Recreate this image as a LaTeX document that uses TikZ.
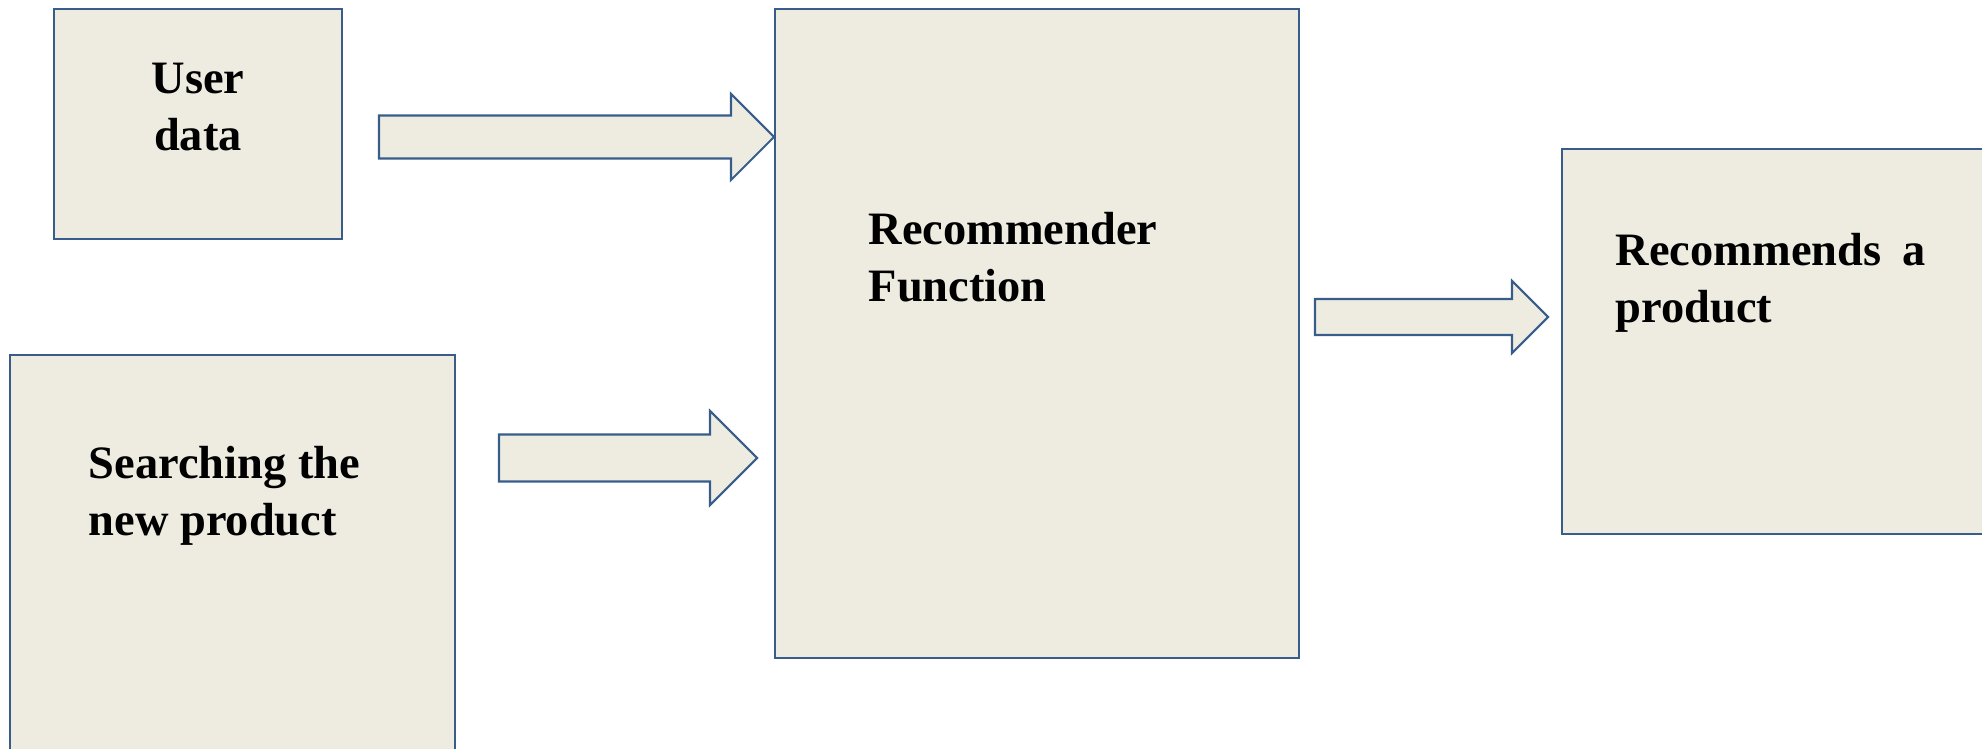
\documentclass[tikz,border=0pt]{standalone}
\usepackage{fontspec}
\setmainfont{Liberation Serif}
\usepackage{xcolor}
\usetikzlibrary{calc,positioning}
\definecolor{boxbeige}{HTML}{EEECE1}
\definecolor{boxblue}{HTML}{385D8A}
\tikzset{
  block/.style={draw=boxblue,fill=boxbeige,line width=0.6pt,inner sep=0pt,anchor=north west},
  blocktext/.style={font=\fontsize{13.2}{16.2}\selectfont\bfseries,inner sep=0pt},
  fatarrow/.style={draw=boxblue,fill=boxbeige,line width=0.6pt,line join=miter}
}
% block arrow: tail centre, tip, half shaft width
\newcommand{\blockarrow}[3]{%
  \filldraw[fatarrow] ($(#1)+(0,-#3)$) -- ($(#2)+(-2*#3,-#3)$) -- ($(#2)+(-2*#3,-2*#3)$)
    -- (#2) -- ($(#2)+(-2*#3,2*#3)$) -- ($(#2)+(-2*#3,#3)$) -- ($(#1)+(0,#3)$) -- cycle;}

\begin{document}
\begin{tikzpicture}[x=0.01cm,y=-0.01cm]
    \useasboundingbox (0,0) rectangle (1982,749);
    \node[block,minimum width=2.88cm,minimum height=2.30cm] (user) at (53,8) {};
    \node[block,minimum width=4.45cm,minimum height=4.20cm] (search) at (9,354) {};
    \node[block,minimum width=5.24cm,minimum height=6.49cm] (recfun) at (774,8) {};
    \node[block,minimum width=4.30cm,minimum height=3.85cm] (recout) at (1561,148) {};

    \node[blocktext,align=center] (usertxt) at (198,107) {User\\data};
    \node[blocktext,align=left,anchor=west] (searchtxt) at (88,496) {Searching the\\new product};
    \node[blocktext,align=left,anchor=west] (recfuntxt) at (868,257) {Recommender\\Function};
    \node[blocktext,align=left,anchor=west] (recouttxt) at (1615,283) {Recommends\hspace{0.45em}a\\product};

    \coordinate (A) at (379,137);
    \coordinate (B) at (recfun.west |- A);
    \blockarrow{A}{B}{21.5}
    \coordinate (C) at (499,458);
    \coordinate (D) at (757,458);
    \blockarrow{C}{D}{23.5}
    \coordinate (E) at (1315,317);
    \coordinate (F) at (1548,317);
    \blockarrow{E}{F}{18}
\end{tikzpicture}
\end{document}
